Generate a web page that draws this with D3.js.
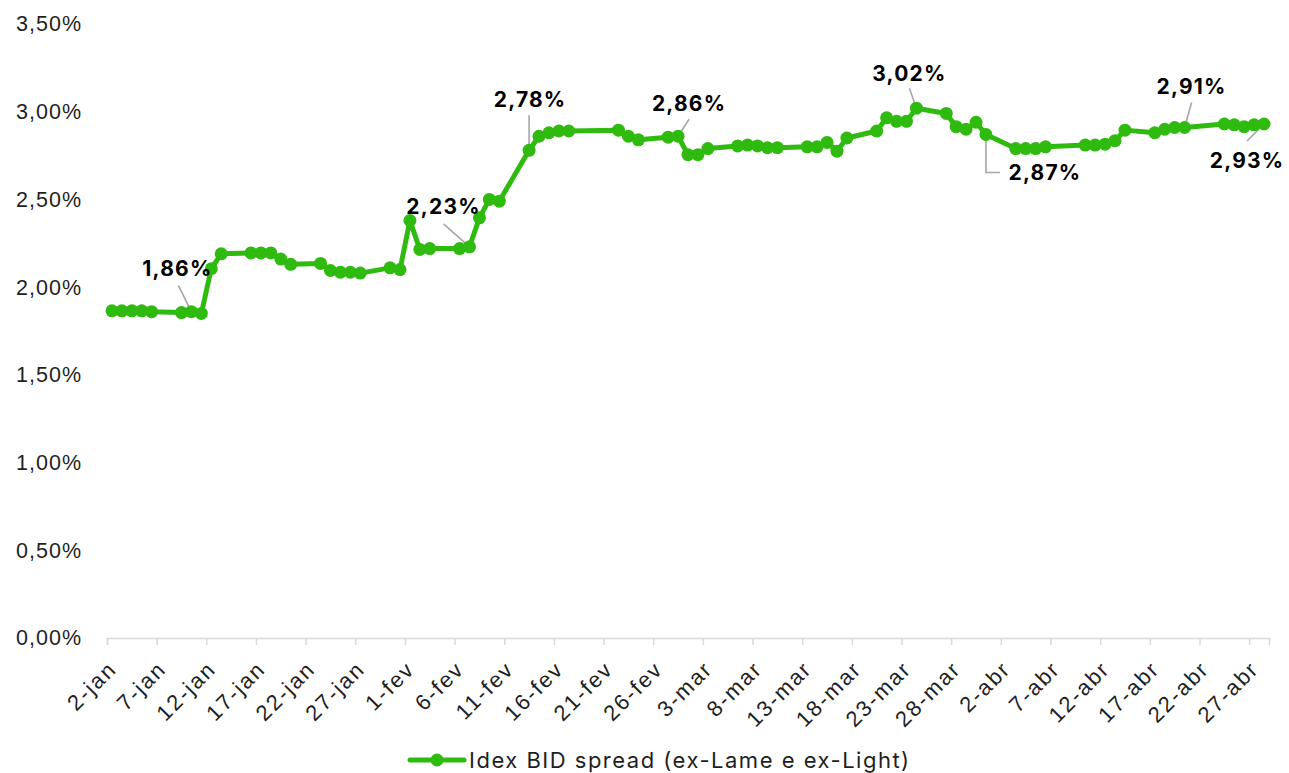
<!DOCTYPE html>
<html>
<head>
<meta charset="utf-8">
<script src="https://cdn.jsdelivr.net/npm/d3@7"></script>
<style>
    body { margin: 0; background: #fff; }
    svg { display: block; font-family: Inter, "Open Sans", sans-serif; }
    .tick-label { font-size: 21.5px; letter-spacing: 1px; fill: #1f1f1f; }
    .x-label { font-size: 22px; letter-spacing: 2px; }
    .legend-label { font-size: 22px; letter-spacing: 1.5px; }
    .annotation { font-size: 21px; letter-spacing: 1.2px; font-weight: 700; fill: #000; }
    .leader { stroke: #a6a6a6; stroke-width: 1.6; fill: none; }
    .line { stroke: #2fba10; stroke-width: 5; fill: none; stroke-linejoin: round; }
    .dot { fill: #2fba10; }
</style>
</head>
<body>
<div id="chart"></div>
<script>
// Trading days (2023) and the spread values, in percent
const DATES = [
    "2023-01-02", "2023-01-03", "2023-01-04", "2023-01-05", "2023-01-06",
    "2023-01-09", "2023-01-10", "2023-01-11", "2023-01-12", "2023-01-13",
    "2023-01-16", "2023-01-17", "2023-01-18", "2023-01-19", "2023-01-20",
    "2023-01-23", "2023-01-24", "2023-01-25", "2023-01-26", "2023-01-27",
    "2023-01-30", "2023-01-31", "2023-02-01", "2023-02-02", "2023-02-03",
    "2023-02-06", "2023-02-07", "2023-02-08", "2023-02-09", "2023-02-10",
    "2023-02-13", "2023-02-14", "2023-02-15", "2023-02-16", "2023-02-17",
    "2023-02-22", "2023-02-23", "2023-02-24",
    "2023-02-27", "2023-02-28", "2023-03-01", "2023-03-02", "2023-03-03",
    "2023-03-06", "2023-03-07", "2023-03-08", "2023-03-09", "2023-03-10",
    "2023-03-13", "2023-03-14", "2023-03-15", "2023-03-16", "2023-03-17",
    "2023-03-20", "2023-03-21", "2023-03-22", "2023-03-23", "2023-03-24",
    "2023-03-27", "2023-03-28", "2023-03-29", "2023-03-30", "2023-03-31",
    "2023-04-03", "2023-04-04", "2023-04-05", "2023-04-06",
    "2023-04-10", "2023-04-11", "2023-04-12", "2023-04-13", "2023-04-14",
    "2023-04-17", "2023-04-18", "2023-04-19", "2023-04-20",
    "2023-04-24", "2023-04-25", "2023-04-26", "2023-04-27", "2023-04-28"
];
const VALUES = [
    1.865, 1.865, 1.865, 1.865, 1.86,
    1.855, 1.86, 1.85, 2.105, 2.19,
    2.195, 2.195, 2.195, 2.16, 2.13,
    2.135, 2.095, 2.085, 2.085, 2.08,
    2.11, 2.10, 2.38, 2.215, 2.22,
    2.22, 2.23, 2.395, 2.50, 2.49,
    2.78, 2.86, 2.88, 2.89, 2.89,
    2.895, 2.86, 2.84,
    2.855, 2.86, 2.755, 2.755, 2.79,
    2.805, 2.81, 2.805, 2.795, 2.795,
    2.80, 2.80, 2.825, 2.775, 2.85,
    2.89, 2.965, 2.945, 2.945, 3.02,
    2.99, 2.915, 2.90, 2.94, 2.87,
    2.79, 2.79, 2.79, 2.80,
    2.81, 2.81, 2.815, 2.835, 2.895,
    2.88, 2.90, 2.91, 2.91,
    2.93, 2.925, 2.915, 2.925, 2.93
];
const SERIES_NAME = "Idex BID spread (ex-Lame e ex-Light)";
const Y_TICKS = [0, 0.5, 1, 1.5, 2, 2.5, 3, 3.5];
const MONTHS = ["jan", "fev", "mar", "abr", "mai", "jun", "jul", "ago", "set", "out", "nov", "dez"];

// Annotated points
const LABEL_DATES = ["2023-01-10", "2023-02-07", "2023-02-13", "2023-02-28", "2023-03-24", "2023-03-31", "2023-04-20", "2023-04-28"];
const LABEL_TEXTS = ["1,86%", "2,23%", "2,78%", "2,86%", "3,02%", "2,87%", "2,91%", "2,93%"];
// label offset from its point [dx, dy], and where its leader starts
const LABEL_OFFSETS = [[-14, -43], [-26, -40], [1, -51], [11, -33], [-7, -35], [59, 38], [7, -41], [-17, 37]];
const LEADER_STARTS = [[-13, -26], [-26, -23], [0, -35], [11, -17], [-7, -20], null, [7, -25], [-17, 17]];

const width = 1289;
const height = 773;
const plot = ({left: 107, right: 1269, top: 24, bottom: 638});

const parse = d3.timeParse("%Y-%m-%d");
const data = DATES.map((d, i) => ({date: parse(d), value: VALUES[i]}));

let svg = d3.select("#chart")
    .append("svg")
    .attr("width", width)
    .attr("height", height);

const xStart = parse(DATES[0]);
const xEnd = d3.timeDay.offset(parse(DATES[DATES.length - 1]), 1);
const xScale = d3.scaleTime()
    .domain([xStart, xEnd])
    .range([plot.left, plot.right]);
// points sit in the middle of their day
const xPos = d => xScale(d3.timeHour.offset(d, 12));

const yScale = d3.scaleLinear()
    .domain([0, 3.5])
    .range([plot.bottom, plot.top]);

// x axis
const xTicks = d3.timeDay.range(xStart, xEnd, 5);
const xAxis = svg.append("g")
    .attr("transform", `translate(0, ${plot.bottom})`)
    .call(d3.axisBottom(xScale)
        .tickValues(xTicks)
        .tickSize(7)
        .tickFormat(d => `${d.getDate()}-${MONTHS[d.getMonth()]}`));
xAxis.select(".domain").attr("stroke", "#d9d9d9").attr("stroke-width", 1.5);
xAxis.selectAll(".tick line").attr("stroke", "#d9d9d9").attr("stroke-width", 1.5);
xAxis.selectAll(".tick text")
    .attr("class", "tick-label x-label")
    .attr("font-size", null)
    .attr("font-family", null)
    .attr("fill", null)
    .attr("text-anchor", "end")
    .attr("y", 0)
    .attr("dy", "0.35em")
    .attr("transform", "translate(5, 27) rotate(-45)");

// y axis (labels only)
const yAxis = svg.append("g")
    .attr("transform", `translate(${plot.left - 22}, 0)`)
    .call(d3.axisLeft(yScale)
        .tickValues(Y_TICKS)
        .tickSize(0)
        .tickFormat(d => d.toFixed(2).replace(".", ",") + "%"));
yAxis.select(".domain").remove();
yAxis.selectAll(".tick text")
    .attr("class", "tick-label")
    .attr("font-size", null)
    .attr("font-family", null)
    .attr("fill", null);

// annotation leaders
const labelData = LABEL_DATES.map((d, i) => {
    const p = data.find(e => +e.date === +parse(d));
    return {x: xPos(p.date), y: yScale(p.value), text: LABEL_TEXTS[i], off: LABEL_OFFSETS[i], lead: LEADER_STARTS[i]};
});

const leaderGroup = svg.append("g");
labelData.forEach(l => {
    let pts;
    if (l.lead) {
        pts = [[l.x + l.lead[0], l.y + l.lead[1]], [l.x, l.y]];
    } else {
        // elbow leader going down then right
        pts = [[l.x, l.y], [l.x, l.y + l.off[1]], [l.x + 14, l.y + l.off[1]]];
    }
    leaderGroup.append("path")
        .attr("class", "leader")
        .attr("d", d3.line()(pts));
});

// series line
const lineGenerator = d3.line()
    .x(d => xPos(d.date))
    .y(d => yScale(d.value));

svg.append("path")
    .datum(data)
    .attr("class", "line")
    .attr("d", lineGenerator);

svg.append("g")
    .selectAll(".dot")
    .data(data)
  .enter().append("circle")
    .attr("class", "dot")
    .attr("cx", d => xPos(d.date))
    .attr("cy", d => yScale(d.value))
    .attr("r", 6.5);

// annotation labels
svg.append("g")
    .selectAll("text")
    .data(labelData)
  .enter().append("text")
    .attr("class", "annotation")
    .attr("x", d => d.x + d.off[0])
    .attr("y", d => d.y + d.off[1])
    .attr("dy", "0.35em")
    .attr("text-anchor", "middle")
    .text(d => d.text);

// legend
const legend = svg.append("g")
    .attr("transform", "translate(410, 760)");
legend.append("line")
    .attr("class", "line")
    .attr("x1", 0)
    .attr("x2", 54)
    .attr("stroke-linecap", "round");
legend.append("circle")
    .attr("class", "dot")
    .attr("cx", 27)
    .attr("r", 6.5);
legend.append("text")
    .attr("class", "tick-label legend-label")
    .attr("x", 59)
    .attr("dy", "0.35em")
    .text(SERIES_NAME);
</script>
</body>
</html>
